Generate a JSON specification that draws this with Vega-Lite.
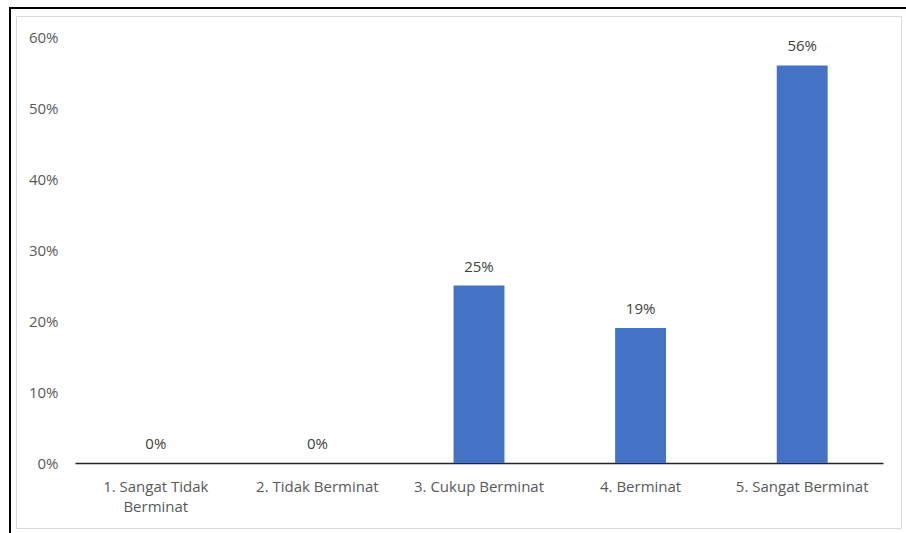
{
  "$schema": "https://vega.github.io/schema/vega-lite/v6.json",
  "width": 902,
  "height": 530,
  "autosize": "none",
  "padding": {"left": 10, "top": 8, "right": 0, "bottom": 0},
  "background": "#ffffff",
  "config": {
    "view": {"stroke": "#000000", "strokeWidth": 2, "fill": "#ffffff"},
    "font": "Open Sans",
    "axis": {"labelFont": "Open Sans", "labelFontSize": 15, "labelColor": "#595959"}
  },
  "layer": [
    {
      "description": "Inner chart-area border",
      "data": {"values": [{"left": 0, "right": 1, "bottom": 0, "top": 1}]},
      "mark": {"type": "rect", "fill": null, "filled": false, "stroke": "#d9d9d9", "strokeWidth": 1},
      "encoding": {
        "x": {"field": "left", "type": "quantitative", "scale": {"domain": [0, 1], "range": [6.5, 891.5]}, "axis": null},
        "x2": {"field": "right"},
        "y": {"field": "bottom", "type": "quantitative", "scale": {"domain": [0, 1], "range": [520.5, 8.5]}, "axis": null},
        "y2": {"field": "top"}
      }
    },
    {
      "data": {
        "values": [
          {"kategori": "1. Sangat Tidak Berminat", "persen": 0.00},
          {"kategori": "2. Tidak Berminat", "persen": 0.00},
          {"kategori": "3. Cukup Berminat", "persen": 0.25},
          {"kategori": "4. Berminat", "persen": 0.19},
          {"kategori": "5. Sangat Berminat", "persen": 0.56}
        ]
      },
      "encoding": {
        "x": {
          "field": "kategori",
          "type": "nominal",
          "sort": null,
          "scale": {"range": [65, 873], "paddingInner": 0.685, "paddingOuter": 0.3425},
          "axis": {
            "title": null,
            "labelAngle": 0,
            "offset": -75,
            "ticks": false,
            "labelPadding": 16,
            "labelLineHeight": 20,
            "domainColor": "#262626",
            "domainWidth": 1.5,
            "labelExpr": "datum.value == '1. Sangat Tidak Berminat' ? ['1. Sangat Tidak', 'Berminat'] : datum.label"
          }
        },
        "y": {
          "field": "persen",
          "type": "quantitative",
          "scale": {"domain": [0, 0.6], "range": [455, 29], "nice": false},
          "axis": {
            "title": null,
            "format": ".0%",
            "values": [0, 0.1, 0.2, 0.3, 0.4, 0.5, 0.6],
            "offset": -65,
            "ticks": false,
            "domain": false,
            "labelPadding": 17,
            "gridColor": "#d9d9d9",
            "gridWidth": 1
          }
        }
      },
      "layer": [
        {"mark": {"type": "bar", "color": "#4472c4"}},
        {
          "mark": {"type": "text", "dy": -14, "baseline": "alphabetic", "fontSize": 15, "color": "#404040", "font": "Open Sans"},
          "encoding": {"text": {"field": "persen", "type": "quantitative", "format": ".0%"}}
        }
      ]
    }
  ],
  "resolve": {"scale": {"x": "independent", "y": "independent"}}
}
